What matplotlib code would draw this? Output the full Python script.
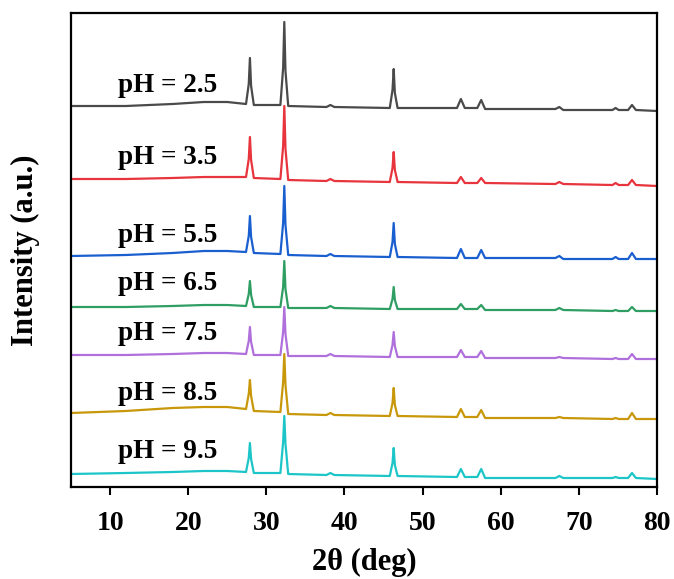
import matplotlib
matplotlib.use("Agg")
import matplotlib.pyplot as plt

# ---- data (2θ in degrees, intensity in arbitrary units, traces already offset) ----
two_theta = [5, 12, 18, 22, 25,
             27.4, 27.75, 27.9, 28.05, 28.4,
             31.8, 32.15, 32.3, 32.45, 32.8,
             37.7, 38.2, 38.7,
             45.8, 46.15, 46.3, 46.45, 46.8,
             54.4, 54.9, 55.4,
             57.0, 57.5, 58.0,
             67.0, 67.5, 68.0,
             74.3, 74.7, 75.1,
             76.3, 76.8, 77.3,
             80]

ph_labels = ["pH = 2.5", "pH = 3.5", "pH = 5.5", "pH = 6.5",
             "pH = 7.5", "pH = 8.5", "pH = 9.5"]

int_ph25 = [381, 381, 383, 385, 385, 383, 403, 429, 401, 382, 382, 419, 465, 416, 381,
            380, 382, 380, 379, 397, 418, 394, 379, 379, 388, 379, 379, 387, 378,
            378, 380, 377, 377, 379, 377, 377, 382, 377, 376]
int_ph35 = [308, 308, 309, 310, 310, 310, 328, 350, 327, 309, 308, 341, 381, 338, 307,
            306, 308, 306, 305, 319, 335, 317, 305, 304, 310, 304, 304, 309, 304,
            303, 305, 303, 302, 304, 302, 302, 307, 302, 301]
int_ph55 = [231, 232, 234, 236, 236, 235, 251, 271, 250, 234, 233, 264, 301, 262, 232,
            231, 233, 231, 230, 245, 264, 243, 230, 229, 238, 229, 229, 237, 229,
            229, 231, 228, 228, 230, 228, 228, 234, 228, 228]
int_ph65 = [180, 180, 181, 182, 182, 181, 193, 206, 192, 180, 180, 200, 226, 198, 179,
            179, 181, 179, 178, 188, 200, 187, 178, 178, 183, 178, 178, 182, 177,
            177, 179, 177, 176, 177, 176, 176, 180, 176, 176]
int_ph75 = [132, 132, 133, 134, 134, 133, 146, 160, 145, 132, 132, 155, 180, 153, 131,
            131, 133, 131, 130, 142, 155, 141, 130, 130, 137, 130, 130, 136, 129,
            129, 130, 129, 128, 129, 128, 128, 133, 128, 128]
int_ph85 = [74, 76, 79, 80, 80, 78, 93, 107, 91, 76, 75, 105, 133, 102, 73,
            72, 74, 72, 71, 84, 99, 82, 71, 70, 78, 70, 70, 77, 69,
            69, 70, 69, 68, 69, 68, 68, 74, 68, 68]
int_ph95 = [13, 14, 15, 16, 16, 15, 29, 44, 28, 14, 14, 45, 71, 43, 13,
            12, 14, 12, 11, 24, 39, 22, 11, 10, 18, 10, 10, 18, 9,
            9, 11, 9, 9, 10, 9, 9, 14, 9, 8]

x_ticks = [10, 20, 30, 40, 50, 60, 70, 80]

# ---- style / layout ----
series = [int_ph25, int_ph35, int_ph55, int_ph65, int_ph75, int_ph85, int_ph95]
colors = ["#4a4a4a", "#e8343c", "#1a5fd0", "#2f9e62", "#b070dc", "#c8980a", "#1cc6c8"]
label_y = [402, 329, 252, 204, 154, 93, 35]
label_x = 11

plt.rcParams["font.family"] = ["Liberation Serif", "DejaVu Serif"]
plt.rcParams["font.weight"] = "bold"

fig = plt.figure(figsize=(6.74, 5.79), dpi=100)
ax = fig.add_axes([71 / 674, 1 - 487 / 579, 586 / 674, 474 / 579])

for y, c, lab, ly in zip(series, colors, ph_labels, label_y):
    ax.plot(two_theta, y, color=c, lw=1.6, solid_joinstyle="round")
    ax.text(label_x, ly, lab, fontsize=19.5, fontweight="bold", va="center", ha="left")

ax.set_xlim(5, 80)
ax.set_ylim(0, 474)
ax.set_xticks(x_ticks)
ax.set_yticks([])
ax.tick_params(axis="x", direction="out", length=6, width=1.5, pad=11, labelsize=20)
for lbl in ax.get_xticklabels():
    lbl.set_fontweight("bold")
for s in ax.spines.values():
    s.set_linewidth(1.6)

ax.set_xlabel("2θ (deg)", fontsize=22, fontweight="bold", labelpad=9)
ax.set_ylabel("Intensity (a.u.)", fontsize=22, fontweight="bold", labelpad=22)

fig.savefig("out.png", dpi=100)
